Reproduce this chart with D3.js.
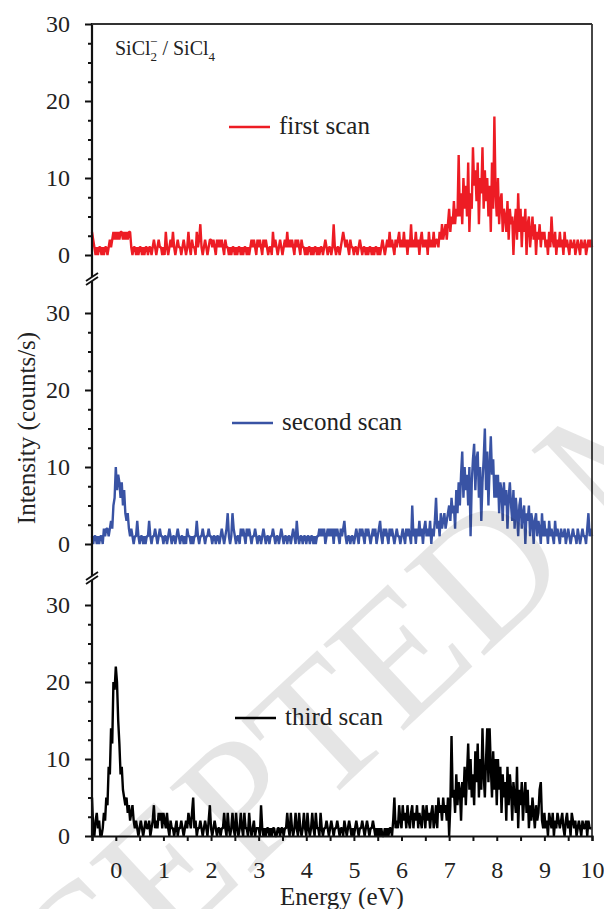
<!DOCTYPE html>
<html>
<head>
<meta charset="utf-8">
<script src="https://cdn.jsdelivr.net/npm/d3@7"></script>
<style>
  body { margin: 0; background: #fff; }
  text { font-family: "Liberation Serif", "Times New Roman", serif; }
</style>
</head>
<body>
<div id="chart"></div>
<script>
// Energy grid of the scans (eV): first point and spacing
const energyStart = -0.5
const energyStep = 0.025

// Intensity (counts/s), one value per grid point
// (rows: -0.5..-0.025, then one row pair per eV, last value at 10 eV)
const firstScan = [
    3,2,1,0,1,0,1,1,0,1, 0,1,1,0,1,2,1,2,3,2,
    3,2,3,2,3,3,2,3,2,3, 2,3,3,1,0,1,1,0,1,0,  1,1,0,1,0,1,1,0,1,1, 0,1,2,1,0,1,2,1,1,0,
    1,0,3,1,0,1,2,1,3,1, 0,1,2,1,1,0,1,2,1,0,  1,3,1,0,2,1,1,0,3,1, 2,4,1,0,1,2,1,0,1,2,
    2,1,2,1,0,2,1,2,1,2, 1,0,2,1,1,0,1,0,1,1,  0,1,0,1,1,0,1,0,1,1, 0,1,0,1,2,1,2,1,0,2,
    1,2,1,0,2,1,2,1,0,1, 1,0,3,1,2,1,0,1,2,1,  0,1,2,1,3,1,2,1,2,1, 0,2,1,2,1,0,2,1,1,0,
    1,0,1,1,0,1,0,1,1,0, 1,0,1,1,0,1,2,1,0,1,  1,0,1,4,1,0,1,1,0,1, 2,3,2,1,2,1,0,2,1,1,
    0,1,1,0,1,2,1,0,1,1, 0,1,0,1,1,0,1,0,1,1,  0,1,0,1,2,1,0,1,2,1, 3,1,2,1,0,2,1,2,3,1,
    2,1,3,1,2,0,2,1,4,1, 2,1,3,1,2,0,2,3,1,2,  1,2,0,3,1,2,1,3,1,2, 2,1,3,2,4,2,3,4,2,4,
    6,3,5,4,7,4,6,5,13,5, 8,4,10,6,9,5,12,3,8,6,  14,9,11,7,12,4,10,8,14,6, 11,7,10,5,9,3,12,6,18,8,
    5,10,4,7,8,3,6,5,3,7, 2,6,4,5,0,4,6,2,8,3,  6,1,5,3,6,0,4,5,1,3, 5,2,4,0,3,2,4,1,3,2,
    3,1,2,0,3,1,5,2,1,3, 0,2,1,3,1,2,0,3,1,2,  1,0,2,1,1,2,0,1,2,1, 0,2,1,1,2,0,1,2,1,2,
    1
]

const secondScan = [
    1,0,1,1,0,1,0,1,1,0, 2,1,2,2,1,2,3,2,5,6,
    10,7,9,8,6,8,5,7,4,3, 4,2,1,2,1,0,1,1,3,1,  0,1,1,0,1,0,1,1,3,1, 0,1,1,2,1,0,1,2,1,1,
    0,1,1,0,1,2,1,0,1,1, 0,1,2,1,0,1,1,0,1,0,  2,1,1,0,1,0,1,1,3,1, 0,1,1,2,1,0,1,1,2,1,
    1,0,1,1,0,1,1,0,1,2, 1,0,1,2,4,1,0,1,4,2,  1,0,1,1,0,2,1,2,1,0, 2,1,2,1,0,1,1,2,1,0,
    1,1,0,1,2,1,0,1,1,0, 1,1,2,1,0,1,1,0,1,2,  1,0,1,1,0,1,1,0,1,2, 1,0,3,1,0,1,1,0,1,1,
    0,1,1,0,1,1,0,1,0,1, 1,2,1,2,1,2,0,1,2,1,  2,1,2,0,2,1,2,1,0,2, 1,2,3,1,0,1,1,0,1,1,
    0,1,2,1,0,2,1,2,1,0, 2,1,2,1,0,1,2,1,2,0,  1,2,3,1,0,2,1,2,1,0, 2,1,2,1,0,1,2,1,1,0,
    1,2,1,0,2,1,2,1,0,5, 1,2,0,2,1,3,1,2,0,2,  3,1,2,1,3,0,2,1,3,6, 2,3,1,4,2,3,4,2,3,4,
    5,3,6,4,5,2,7,4,8,5, 9,12,6,10,7,9,5,10,1,8,  11,13,7,11,12,6,10,3,8,11, 15,7,12,5,10,14,9,11,6,9,
    6,9,4,8,7,3,8,5,7,2, 6,8,5,3,7,2,6,4,1,5,  6,2,4,5,0,4,3,5,1,4, 3,0,3,4,1,3,2,0,4,1,
    3,1,2,0,3,1,2,1,0,3, 1,2,1,0,2,1,1,2,0,1,  2,1,0,1,2,1,1,0,2,1, 0,1,2,1,1,0,2,4,1,2,
    1
]

const thirdScan = [
    5,1,0,2,3,1,2,0,0,1, 3,2,5,4,9,8,14,12,20,19,
    22,20,15,12,8,9,6,5,4,5, 3,4,2,3,4,2,1,2,1,0,  1,2,1,0,1,2,1,1,2,0, 1,2,4,1,2,1,3,2,3,1,
    3,2,1,3,1,0,2,1,1,0, 1,2,0,1,1,2,1,0,1,2,  1,3,2,1,3,5,1,2,0,1, 1,2,1,0,1,2,1,0,2,4,
    1,0,1,2,1,0,1,1,0,1, 1,3,1,0,3,1,0,1,3,1,  0,3,1,0,1,3,1,0,3,1, 1,0,3,1,0,1,2,0,1,1,
    1,0,4,1,0,1,0,1,1,0, 1,0,1,1,0,0,1,1,0,1,  1,0,1,1,3,1,0,3,1,0, 1,3,1,0,3,1,0,1,3,1,
    0,3,1,0,1,3,1,0,3,1, 1,0,3,1,0,1,1,2,1,0,  1,2,1,0,1,1,2,1,0,1, 1,0,2,1,0,1,2,1,0,1,
    0,1,2,1,0,1,1,2,1,0, 1,2,1,0,1,1,2,1,0,1,  0,1,0,1,0,0,1,0,1,0, 1,1,0,2,5,1,2,1,4,2,
    1,4,2,3,1,4,2,1,3,4, 1,3,2,4,1,3,2,1,4,3,  1,4,2,3,1,3,4,1,2,4, 1,5,3,4,2,5,3,4,2,5,
    0,4,13,5,6,3,8,4,7,6, 2,7,5,9,4,8,12,6,10,5,  8,4,11,7,12,5,10,6,14,8, 5,10,14,7,14,9,5,11,6,10,
    4,10,6,9,3,8,5,7,2,9, 4,8,6,2,7,5,3,9,1,6,  4,7,2,5,7,3,6,1,4,2, 5,3,1,4,2,3,6,7,2,1,
    3,1,2,0,3,2,1,3,0,2, 1,3,2,1,2,3,1,0,2,3,  1,2,0,3,2,1,2,0,1,2, 1,0,2,1,1,2,0,2,1,1,
    1
]

const scanNames = ["first scan", "second scan", "third scan"]
const xTicks = [0, 1, 2, 3, 4, 5, 6, 7, 8, 9, 10]
const xMinorTicks = [-0.5, 0.5, 1.5, 2.5, 3.5, 4.5, 5.5, 6.5, 7.5, 8.5, 9.5]
const yTicks = [0, 10, 20, 30]
const yMinorTicks = [2.5, 5, 7.5, 12.5, 15, 17.5, 22.5, 25, 27.5]

const scans = [firstScan, secondScan, thirdScan]
const scanColors = ["#ed1c24", "#3953a4", "#000000"]

// Layout
const width = 604
const height = 909
const plotLeft = 92
const plotRight = 592
const plotTop = 24
const plotBottom = 836

// each stacked panel: pixel row of its zero line, break below it, legend spot
const panels = [
    { zero: 255, breakBelow: 279, legendY: 127, legendX: 229 },
    { zero: 544, breakBelow: 578, legendY: 423, legendX: 232 },
    { zero: 836, breakBelow: null, legendY: 718, legendX: 235 },
]
const panelSpan = 231  // pixels for 30 counts/s

const svg = d3.select("#chart")
    .append("svg")
    .attr("width", width)
    .attr("height", height)

const xScale = d3.scaleLinear()
    .domain([-0.5, 10])
    .range([plotLeft, plotRight])

const energyOf = i => energyStart + i * energyStep

panels.forEach((p, k) => {
    const yScale = d3.scaleLinear()
        .domain([0, 30])
        .range([p.zero, p.zero - panelSpan])

    const line = d3.line()
        .x((d, i) => xScale(energyOf(i)))
        .y(d => yScale(d))

    svg.append("path")
        .datum(scans[k])
        .attr("fill", "none")
        .attr("stroke", scanColors[k])
        .attr("stroke-width", 2.4)
        .attr("stroke-linejoin", "bevel")
        .attr("d", line)

    // y axis ticks: major + minor
    const yAxisMajor = d3.axisLeft(yScale)
        .tickValues(yTicks)
        .tickSize(7)
        .tickFormat(d3.format("d"))
    const yAxisMinor = d3.axisLeft(yScale)
        .tickValues(yMinorTicks)
        .tickSize(4)
        .tickFormat("")

    const gMaj = svg.append("g")
        .attr("transform", `translate(${plotLeft},0)`)
        .call(yAxisMajor)
    gMaj.select(".domain").remove()
    gMaj.selectAll("line").attr("stroke", "#111").attr("stroke-width", 2)
    gMaj.selectAll("text")
        .attr("x", -22)
        .attr("font-size", 24)
        .attr("fill", "#222")

    const gMin = svg.append("g")
        .attr("transform", `translate(${plotLeft},0)`)
        .call(yAxisMinor)
    gMin.select(".domain").remove()
    gMin.selectAll("line").attr("stroke", "#111").attr("stroke-width", 2)

    // legend
    svg.append("line")
        .attr("x1", p.legendX).attr("x2", p.legendX + 41)
        .attr("y1", p.legendY).attr("y2", p.legendY)
        .attr("stroke", scanColors[k])
        .attr("stroke-width", 2.6)
    svg.append("text")
        .attr("x", p.legendX + 50)
        .attr("y", p.legendY + 7)
        .attr("font-size", 25)
        .attr("fill", "#222")
        .text(scanNames[k])
})

// frame
svg.append("line")
    .attr("x1", plotLeft).attr("x2", plotLeft)
    .attr("y1", plotTop - 1).attr("y2", plotBottom + 1)
    .attr("stroke", "#111").attr("stroke-width", 2.2)
svg.append("line")
    .attr("x1", plotRight).attr("x2", plotRight)
    .attr("y1", plotTop).attr("y2", plotBottom)
    .attr("stroke", "#333").attr("stroke-width", 1.8)
svg.append("line")
    .attr("x1", plotLeft).attr("x2", plotRight)
    .attr("y1", plotTop).attr("y2", plotTop)
    .attr("stroke", "#333").attr("stroke-width", 2)

// x axis
const xAxis = d3.axisBottom(xScale)
    .tickValues(xTicks)
    .tickSize(5)
    .tickFormat(d3.format("d"))
const xAxisMinor = d3.axisBottom(xScale)
    .tickValues(xMinorTicks)
    .tickSize(5)
    .tickFormat("")

const gx = svg.append("g")
    .attr("transform", `translate(0,${plotBottom})`)
    .call(xAxis)
gx.select(".domain").attr("stroke", "#111").attr("stroke-width", 2.2)
gx.selectAll("line").attr("stroke", "#111").attr("stroke-width", 2)
gx.selectAll("text")
    .attr("y", 42)
    .attr("dy", 0)
    .attr("font-size", 24)
    .attr("fill", "#222")

const gxm = svg.append("g")
    .attr("transform", `translate(0,${plotBottom})`)
    .call(xAxisMinor)
gxm.select(".domain").remove()
gxm.selectAll("line").attr("stroke", "#111").attr("stroke-width", 2)

// axis breaks on the left spine
panels.filter(p => p.breakBelow !== null).forEach(p => {
    const y = p.breakBelow
    svg.append("polygon")
        .attr("points", `${plotLeft - 6},${y + 2} ${plotLeft + 6},${y - 6} ${plotLeft + 6},${y - 2} ${plotLeft - 6},${y + 6}`)
        .attr("fill", "#fff")
    svg.append("line")
        .attr("x1", plotLeft - 6).attr("y1", y + 2)
        .attr("x2", plotLeft + 6).attr("y2", y - 6)
        .attr("stroke", "#111").attr("stroke-width", 1.8)
    svg.append("line")
        .attr("x1", plotLeft - 6).attr("y1", y + 6)
        .attr("x2", plotLeft + 6).attr("y2", y - 2)
        .attr("stroke", "#111").attr("stroke-width", 1.8)
})

// axis titles
svg.append("text")
    .attr("x", (plotLeft + plotRight) / 2)
    .attr("y", 905)
    .attr("text-anchor", "middle")
    .attr("font-size", 25)
    .attr("fill", "#222")
    .text("Energy (eV)")

svg.append("text")
    .attr("transform", "translate(35,428) rotate(-90)")
    .attr("text-anchor", "middle")
    .attr("font-size", 25)
    .attr("fill", "#222")
    .text("Intensity (counts/s)")

// system label SiCl2- / SiCl4
const sys = svg.append("text")
    .attr("x", 115)
    .attr("y", 55)
    .attr("font-size", 20)
    .attr("fill", "#222")
sys.append("tspan").text("SiCl")
sys.append("tspan").attr("font-size", 13).attr("dy", 6).text("2")
sys.append("tspan").attr("font-size", 13).attr("dx", -7).attr("dy", -15).text("\u2212")
sys.append("tspan").attr("dy", 9).text(" / SiCl")
sys.append("tspan").attr("font-size", 13).attr("dy", 6).text("4")

// watermark
svg.append("text")
    .attr("transform", "translate(-105,1205) rotate(-43)")
    .attr("font-size", 180)
    .attr("fill", "#000")
    .attr("fill-opacity", 0.1)
    .text("ACCEPTED MANUSCRIPT")
</script>
</body>
</html>
